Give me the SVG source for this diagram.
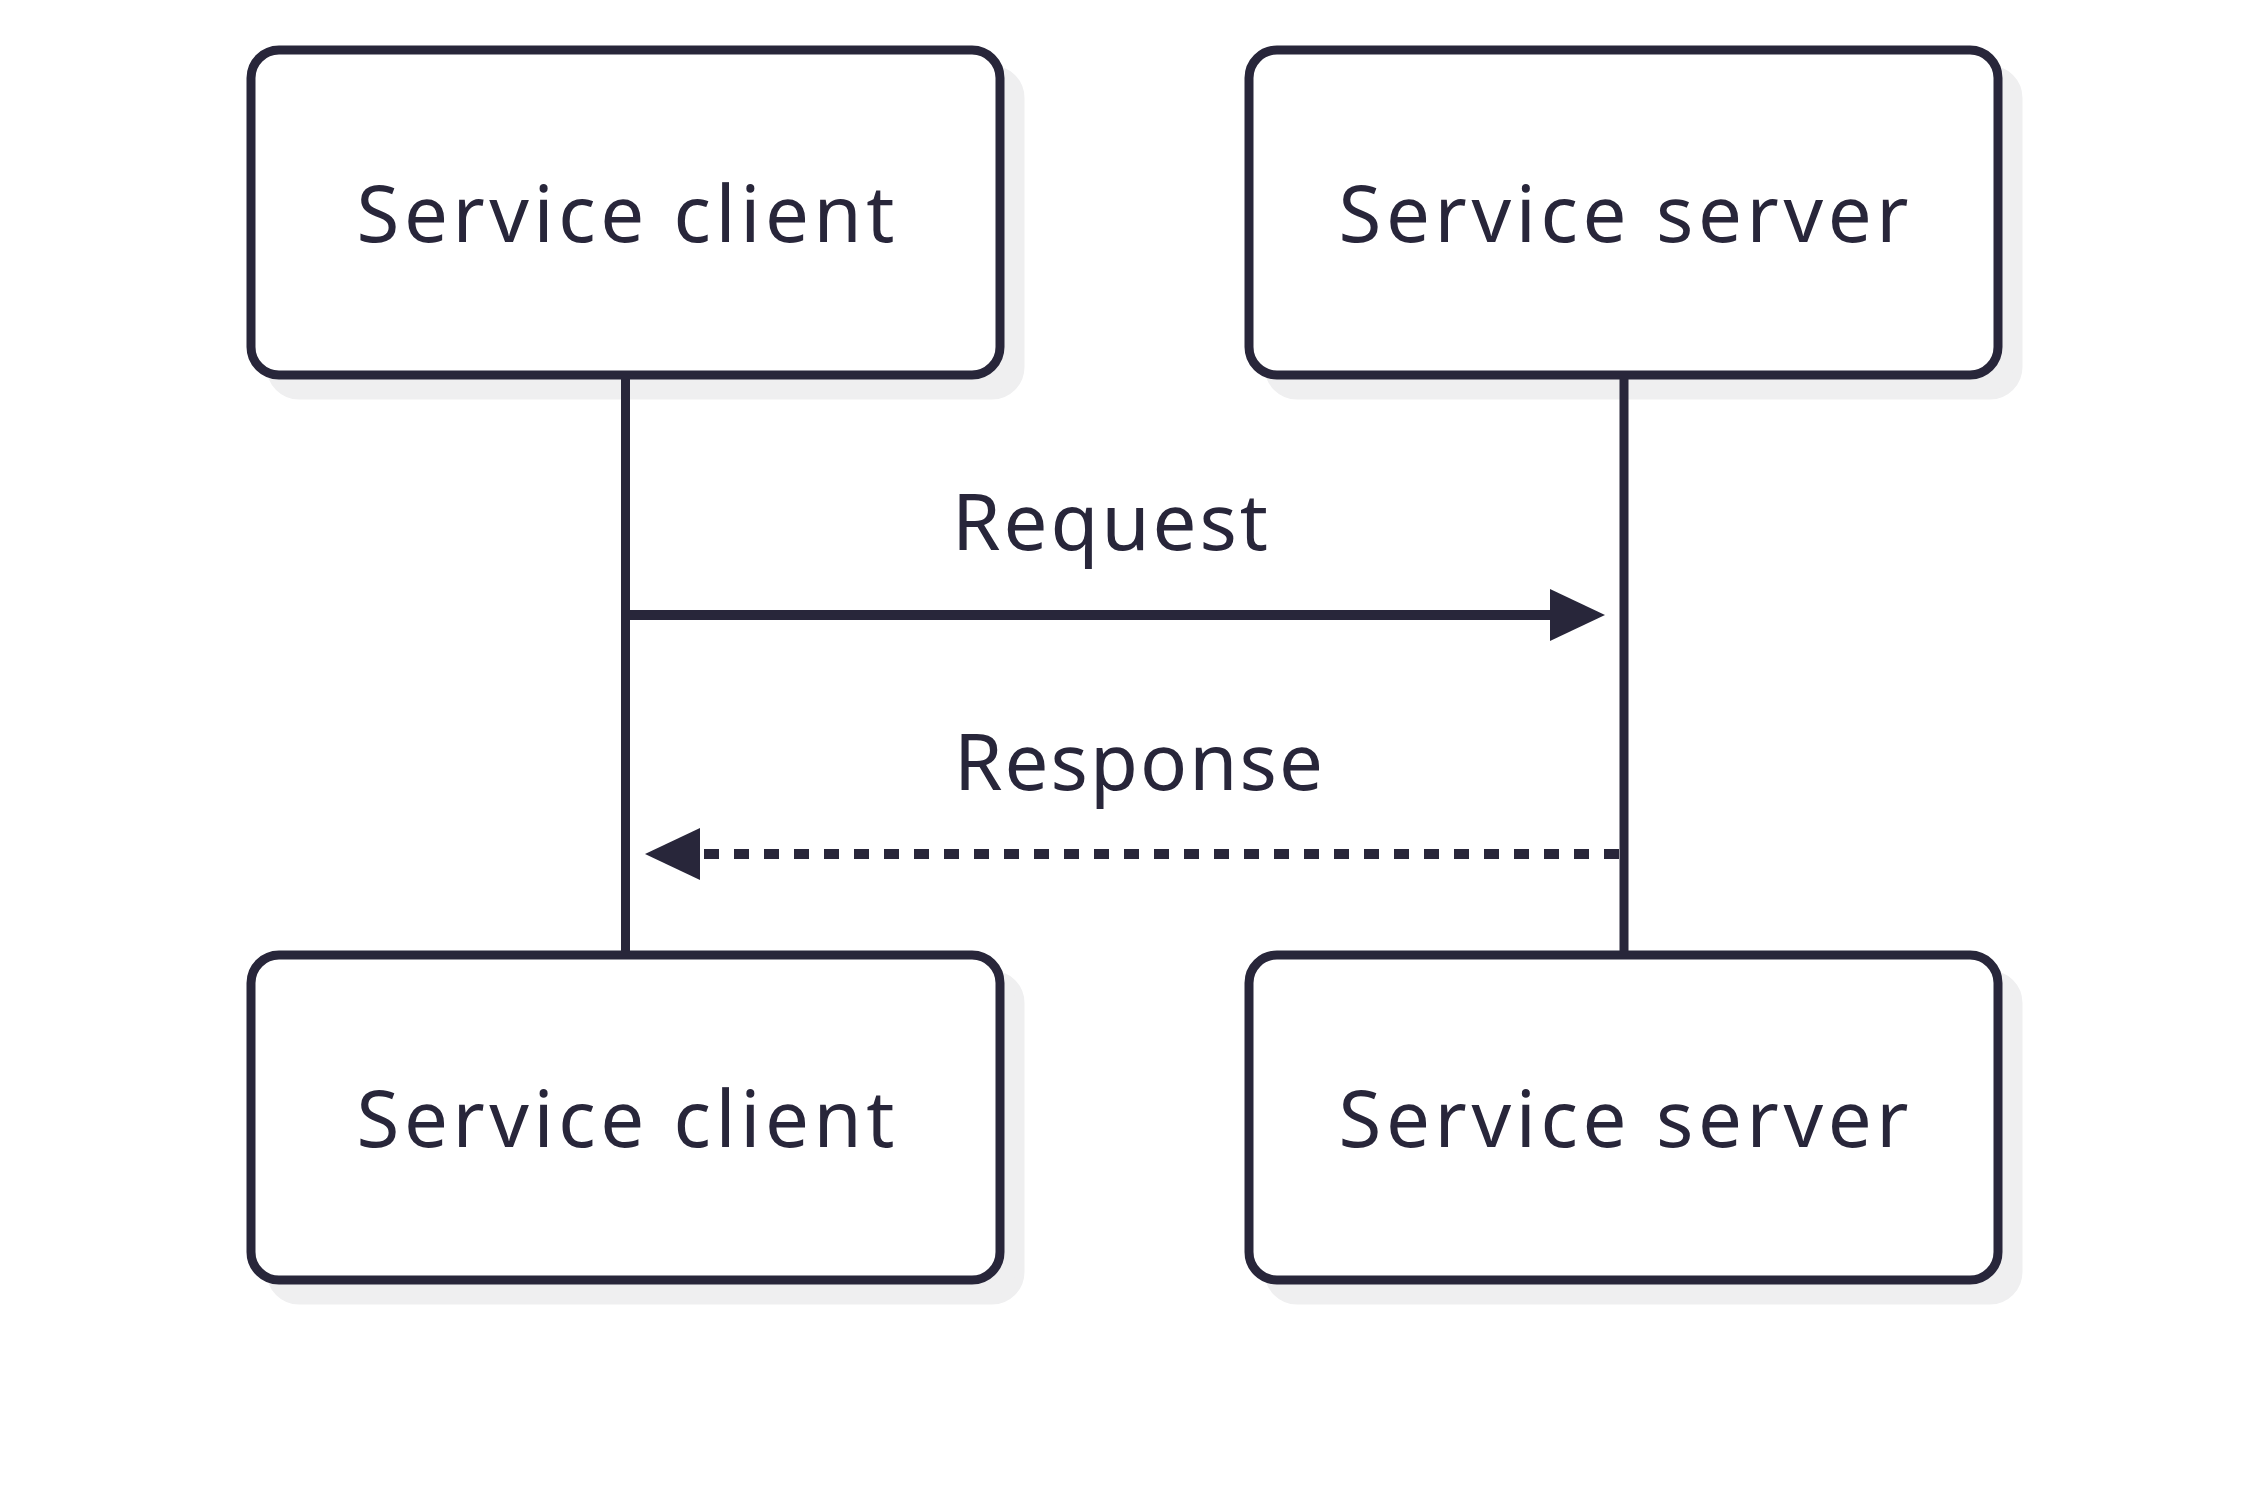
<svg xmlns="http://www.w3.org/2000/svg" width="2250" height="1485" viewBox="0 0 2250 1485">
  <defs>
    <style>
      .shadow { fill: #efeff0; stroke: #efeff0; stroke-width: 9; }
      .box { fill: #ffffff; stroke: #28263a; stroke-width: 9; }
      .label { font-family: "Noto Sans", "Open Sans", sans-serif; font-size: 78px; fill: #28263a; }
      .life { stroke: #28263a; stroke-width: 9; fill: none; }
      .msg { stroke: #28263a; stroke-width: 10; fill: none; }
      .dashed { stroke-dasharray: 15 15; }
    </style>
    <marker id="head" viewBox="0 0 55 52" markerWidth="55" markerHeight="52" refX="2" refY="26" orient="auto" markerUnits="userSpaceOnUse">
      <path d="M0,0 L55,26 L0,52 z" fill="#28263a"/>
    </marker>
  </defs>

  <rect width="2250" height="1485" fill="#ffffff"/>

  <g id="client-top">
    <rect class="shadow" x="271" y="70" width="749" height="325" rx="28"/>
    <rect class="box" x="251" y="50" width="749" height="325" rx="28"/>
    <text class="label" x="625.5" y="242" text-anchor="middle" textLength="538" lengthAdjust="spacing">Service client</text>
  </g>

  <g id="server-top">
    <rect class="shadow" x="1269" y="70" width="749" height="325" rx="28"/>
    <rect class="box" x="1249" y="50" width="749" height="325" rx="28"/>
    <text class="label" x="1623.5" y="242" text-anchor="middle" textLength="570" lengthAdjust="spacing">Service server</text>
  </g>

  <g id="client-bottom">
    <rect class="shadow" x="271" y="975" width="749" height="325" rx="28"/>
    <rect class="box" x="251" y="955" width="749" height="325" rx="28"/>
    <text class="label" x="625.5" y="1147" text-anchor="middle" textLength="538" lengthAdjust="spacing">Service client</text>
  </g>

  <g id="server-bottom">
    <rect class="shadow" x="1269" y="975" width="749" height="325" rx="28"/>
    <rect class="box" x="1249" y="955" width="749" height="325" rx="28"/>
    <text class="label" x="1623.5" y="1147" text-anchor="middle" textLength="570" lengthAdjust="spacing">Service server</text>
  </g>

  <!-- lifelines and messages, drawn above the box shadows -->
  <g id="connectors">
    <line class="life" x1="625.5" y1="375" x2="625.5" y2="955"/>
    <line class="life" x1="1624" y1="375" x2="1624" y2="955"/>
    <line class="msg" x1="630" y1="615" x2="1552" y2="615" marker-end="url(#head)"/>
    <line class="msg dashed" x1="1619" y1="854" x2="698" y2="854" marker-end="url(#head)"/>
    <text class="label" x="952" y="550" textLength="316" lengthAdjust="spacing">Request</text>
    <text class="label" x="954" y="790" textLength="369" lengthAdjust="spacing">Response</text>
  </g>
</svg>
